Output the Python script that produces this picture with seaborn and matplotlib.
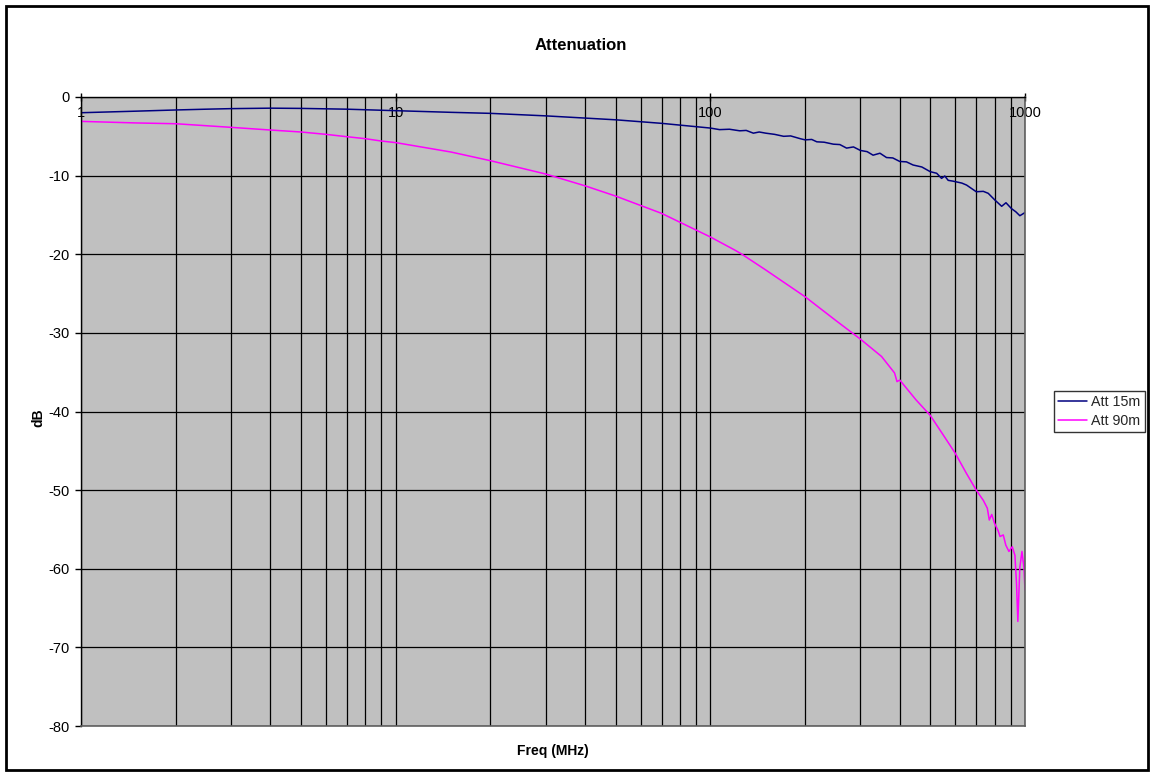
import numpy as np
import pandas as pd
import matplotlib
matplotlib.use("Agg")
import matplotlib.pyplot as plt
import matplotlib.patches as patches
from matplotlib.ticker import FixedLocator, NullLocator, FixedFormatter
import seaborn as sns

# Data
att15_freq = [1, 1.5, 2, 2.5, 3, 4, 5, 7, 10, 15, 20, 30, 50, 70, 100, 107, 115, 124,
              130, 137, 143, 150, 160, 171, 180, 193, 200, 210, 218, 230, 246, 258,
              271, 285, 300, 315, 329, 346, 363, 380, 400, 420, 441, 470, 500, 524,
              543, 556, 570, 590, 606, 630, 652, 700, 737, 764, 802, 843, 870, 906,
              935, 963, 1000]
att15_db = [-2.0, -1.8, -1.65, -1.55, -1.48, -1.42, -1.45, -1.55, -1.74, -1.95, -2.08,
            -2.4, -2.9, -3.35, -3.95, -4.15, -4.1, -4.3, -4.25, -4.6, -4.45, -4.6,
            -4.75, -5.0, -4.95, -5.3, -5.45, -5.4, -5.7, -5.75, -6.0, -6.05, -6.5,
            -6.35, -6.8, -6.95, -7.4, -7.15, -7.7, -7.75, -8.2, -8.25, -8.65, -8.9,
            -9.5, -9.7, -10.35, -10.05, -10.6, -10.7, -10.8, -10.95, -11.2, -12.05,
            -12.0, -12.25, -13.1, -13.9, -13.45, -14.2, -14.6, -15.1, -14.7]

att90_freq = [1, 1.5, 2, 3, 4, 5, 6, 7, 8, 9, 10, 15, 20, 30, 40, 50, 70, 100, 120,
              126, 150, 200, 250, 300, 350, 385, 392, 400, 450, 500, 550, 600, 652,
              700, 737, 759, 770, 784, 800, 822, 833, 853, 869, 889, 911, 929, 940,
              949, 963, 978, 992, 1000]
att90_db = [-3.1, -3.3, -3.4, -3.86, -4.2, -4.45, -4.75, -5.05, -5.3, -5.6, -5.8,
            -7.0, -8.1, -9.8, -11.3, -12.6, -14.8, -17.8, -19.5, -20.0, -22.0,
            -25.4, -28.4, -30.8, -33.0, -35.1, -36.2, -36.0, -38.5, -40.5, -43.0,
            -45.3, -47.9, -50.0, -51.3, -52.3, -53.8, -53.1, -54.2, -55.2, -55.9,
            -55.7, -57.0, -57.8, -57.2, -58.3, -62.0, -66.7, -59.8, -57.8, -59.8,
            -62.7]

series_names = ["Att 15m", "Att 90m"]
series_colors = ["#000080", "#FF00FF"]

x_ticks = [1, 10, 100, 1000]
x_tick_labels = ["1", "10", "100", "1000"]
y_ticks = [0, -10, -20, -30, -40, -50, -60, -70, -80]

df = pd.concat([
    pd.DataFrame({"Freq": att15_freq, "dB": att15_db, "Series": series_names[0]}),
    pd.DataFrame({"Freq": att90_freq, "dB": att90_db, "Series": series_names[1]}),
])

sns.set_theme(style="white")
plt.rcParams["font.family"] = ["Liberation Sans", "DejaVu Sans"]
plt.rcParams["axes.unicode_minus"] = False

W, H = 1153, 776
fig = plt.figure(figsize=(W / 100, H / 100), dpi=100)
ax = fig.add_axes([81 / W, 1 - 726 / H, (1025 - 81) / W, (726 - 97) / H])
ax.set_facecolor("#C0C0C0")

sns.lineplot(data=df, x="Freq", y="dB", hue="Series",
             palette=dict(zip(series_names, series_colors)),
             linewidth=1.1, ax=ax, legend=True)

ax.set_xscale("log")
ax.set_xlim(1, 1000)
ax.set_ylim(-80, 0)

# gridlines like an Excel chart
minor_grid = [m * 10 ** e for e in range(3) for m in range(2, 10)]
for xv in minor_grid + x_ticks:
    ax.axvline(xv, color="#000000", lw=0.9, zorder=0.5)
for yv in y_ticks:
    ax.axhline(yv, color="#000000", lw=0.9, zorder=0.5)

ax.xaxis.set_major_locator(FixedLocator(x_ticks))
ax.xaxis.set_major_formatter(FixedFormatter(x_tick_labels))
ax.xaxis.set_minor_locator(NullLocator())
ax.xaxis.set_ticks_position("top")
ax.tick_params(axis="x", which="major", direction="inout", length=6, width=1,
               color="black", labelsize=10.5, pad=-19.5, labelcolor="black")
ax.set_yticks(y_ticks)
ax.tick_params(axis="y", direction="out", length=4, width=1, color="black",
               labelsize=10.5, pad=4, left=True, labelcolor="black")

for side in ["left", "top"]:
    ax.spines[side].set_color("black")
    ax.spines[side].set_linewidth(1)
for side in ["right", "bottom"]:
    ax.spines[side].set_color("#606060")
    ax.spines[side].set_linewidth(1.2)

ax.set_xlabel("Freq (MHz)", fontsize=10, fontweight="bold", color="black")
ax.xaxis.set_label_position("bottom")
ax.xaxis.set_label_coords(0.5, -0.028)
ax.xaxis.label.set_va("top")
ax.set_ylabel("dB", fontsize=10, fontweight="bold", color="black")
ax.yaxis.set_label_coords(-0.038, 0.49)

fig.text(581 / W, 1 - 45 / H, "Attenuation", ha="center", va="center",
         fontsize=12, fontweight="bold", color="black")

handles, labels = ax.get_legend_handles_labels()
ax.get_legend().remove()
leg = fig.legend(handles, labels, loc="upper left",
                 bbox_to_anchor=(1054 / W, 1 - 391 / H), fontsize=10.3,
                 frameon=True, fancybox=False, shadow=False, handlelength=2.0,
                 handletextpad=0.3, borderpad=0.3, labelspacing=0.3,
                 borderaxespad=0)
leg.get_frame().set_edgecolor("black")
leg.get_frame().set_linewidth(1)
for line in leg.get_lines():
    line.set_linewidth(1.1)

# outer chart border
fig.patches.append(patches.Rectangle((6 / W, 6 / H), (1148 - 6) / W, (770 - 6) / H,
                                     transform=fig.transFigure, fill=False,
                                     edgecolor="black", linewidth=2))

fig.savefig("out.png", dpi=100, facecolor="white")
